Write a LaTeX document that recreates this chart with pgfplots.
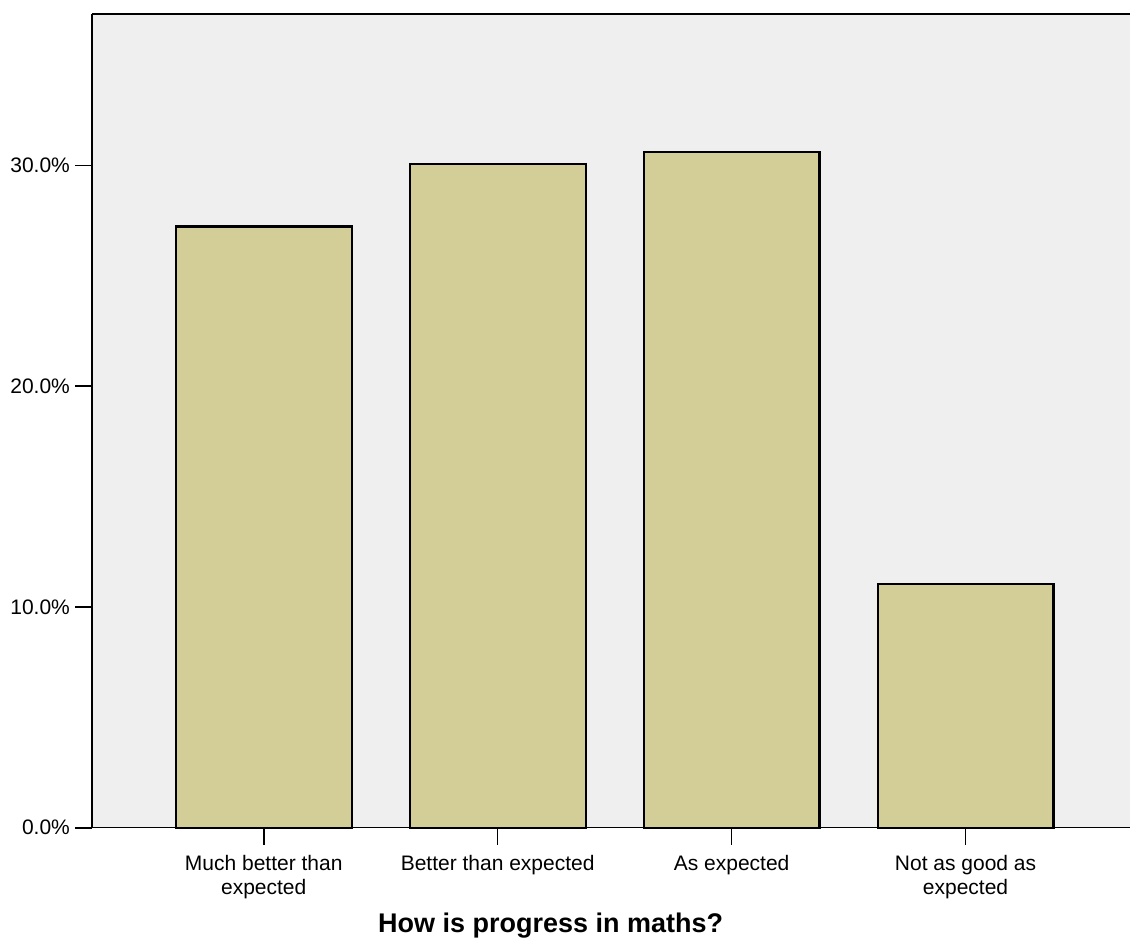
\documentclass[border=0pt]{standalone}
\usepackage{pgfplots}
\pgfplotsset{compat=1.18}
\usepackage{fontspec}
\setmainfont{Liberation Sans}
\definecolor{bgcol}{RGB}{239,239,239}
\definecolor{barcol}{RGB}{211,206,151}
\begin{document}
\begin{tikzpicture}
\begin{axis}[
  scale only axis,
  width=519.35pt, height=407.15pt,
  xmin=-0.733, xmax=3.704,
  ymin=0, ymax=36.86,
  axis lines=left,
  axis line style={-, line width=0.75pt, black},
  axis background/.style={fill=bgcol},
  clip=false,
  tick align=outside,
  major tick length=8.5pt,
  tick style={line width=0.8pt, black},
  xtick={0,1,2,3},
  xticklabels={{Much better than\\expected},{Better than expected},{As expected},{Not as good as\\expected}},
  ytick={0,10,20,30},
  yticklabels={0.0\%,10.0\%,20.0\%,30.0\%},
  /pgf/number format/assume math mode=true,
  xticklabel style={font=\fontsize{10.5}{12}\selectfont, align=center, anchor=north, inner sep=0pt, yshift=-5pt},
  yticklabel style={font=\fontsize{10.5}{12}\selectfont, anchor=east, inner sep=0pt, xshift=-2.5pt},
  xlabel={How is progress in maths?},
  xlabel style={font=\fontsize{13.5}{16}\selectfont\bfseries, at={(rel axis cs:0.4416,0)}, anchor=base, yshift=-52.5pt},
]
\addplot[ybar, bar width=88pt, fill=barcol, draw=black, line width=1.1pt] coordinates {
  (0,27.23) (1,30.07) (2,30.61) (3,11.05)
};
\draw[line width=0.75pt] (rel axis cs:0,1) -- (rel axis cs:1,1);
\end{axis}
\path (current axis.south west) ++(-46.15pt,-58.85pt) coordinate (a);
\path (current axis.north east) ++(0,7pt) coordinate (b);
\path (a) rectangle (b);
\end{tikzpicture}
\end{document}
